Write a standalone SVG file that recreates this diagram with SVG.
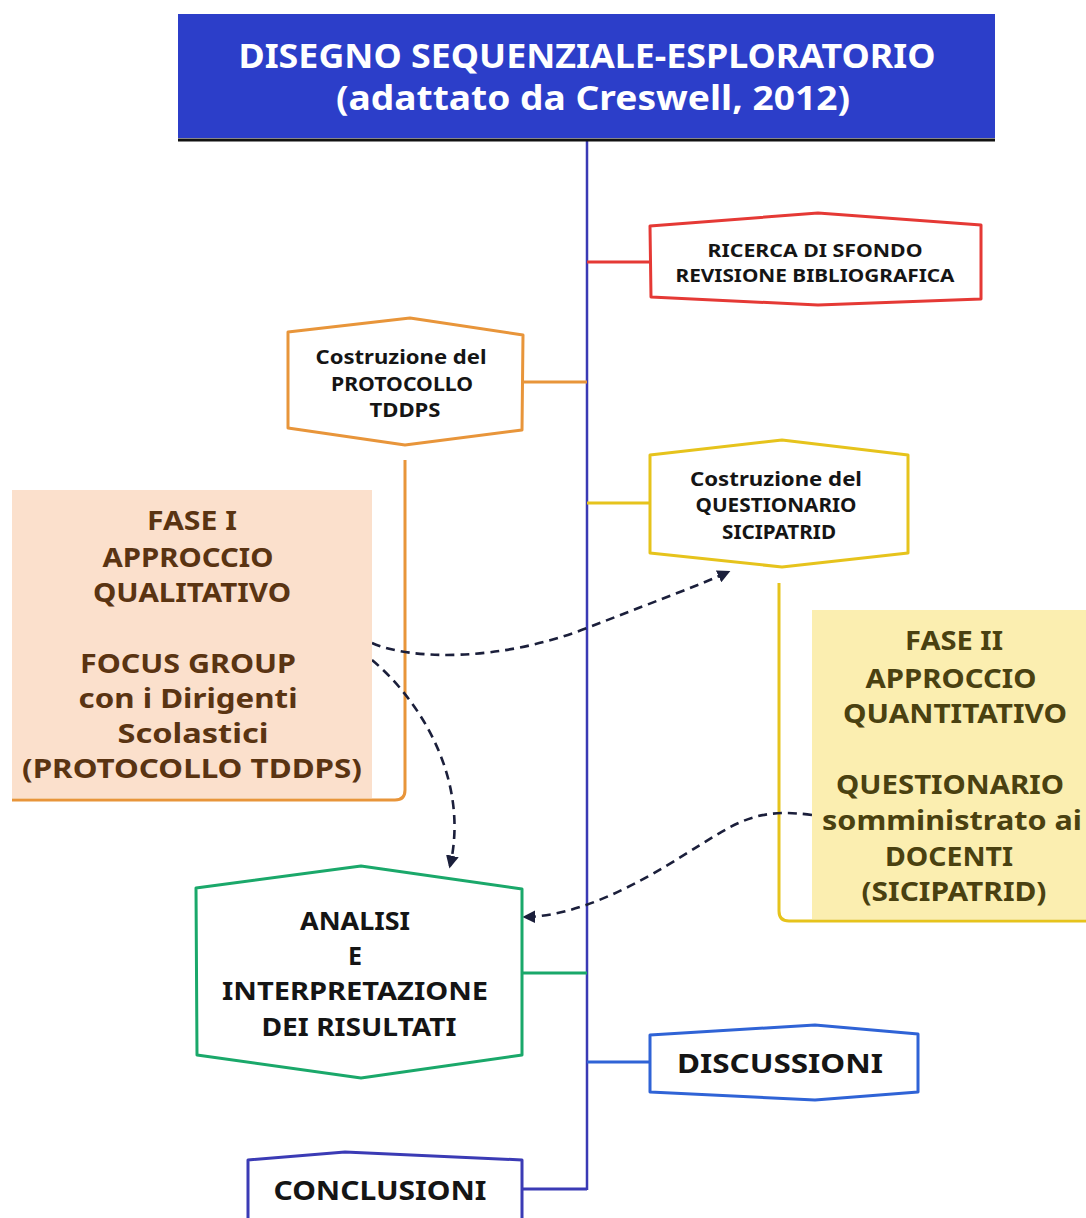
<svg xmlns="http://www.w3.org/2000/svg" width="1086" height="1218" viewBox="0 0 1086 1218">
<defs>
<marker id="ah" viewBox="0 0 10 10" refX="8" refY="5" markerWidth="5" markerHeight="5" orient="auto" markerUnits="strokeWidth">
<path d="M0,0 L10,5 L0,10 Z" fill="#1b1f3b"/>
</marker>
<style>
text{font-family:"Noto Sans","DejaVu Sans",sans-serif;font-weight:700;text-anchor:middle}
.t{fill:#ffffff;font-size:34px}
.k{fill:#151515}
.s{font-size:18px}
.m{font-size:19px}
.b1{fill:#5a3412;font-size:26px}
.b2{fill:#4a4110;font-size:26px}
.g{font-size:25px}
.d{font-size:27px}
.hx{fill:#ffffff;stroke-width:3;stroke-linejoin:round}
.ln{fill:none;stroke-width:3}
.dash{fill:none;stroke:#1b1f3b;stroke-width:2.6;stroke-dasharray:9 6;marker-end:url(#ah)}
</style>
</defs>
<rect width="1086" height="1218" fill="#ffffff"/>

<g id="connectors">
<line x1="587" y1="140" x2="587" y2="1190" stroke="#3a3ab5" stroke-width="2.5"/>
<line x1="587" y1="262" x2="650" y2="262" class="ln" stroke="#e53935"/>
<line x1="523" y1="382" x2="587" y2="382" class="ln" stroke="#e8953a"/>
<line x1="587" y1="503" x2="650" y2="503" class="ln" stroke="#e6c31c"/>
<line x1="522" y1="973" x2="587" y2="973" class="ln" stroke="#1aa86a"/>
<line x1="587" y1="1062" x2="650" y2="1062" class="ln" stroke="#2f63d6"/>
<line x1="522" y1="1189" x2="587" y2="1189" class="ln" stroke="#3b3bb5"/>
<path d="M405,460 L405,790 Q405,800 395,800 L12,800" class="ln" stroke="#e8953a"/>
<path d="M779,583 L779,911 Q779,921 789,921 L1086,921" class="ln" stroke="#e6c31c"/>
<path d="M372,643 C410,660 500,662 587,628 S700,585 728,572" class="dash"/>
<path d="M372,660 C420,700 470,780 450,866" class="dash"/>
<path d="M812,815 C760,808 740,820 700,845 S590,916 525,917" class="dash"/>
</g>

<g id="title">
<rect x="178" y="14" width="817" height="124" fill="#2c3ec9"/>
<line x1="178" y1="140" x2="995" y2="140" stroke="#111111" stroke-width="3"/>
<text class="t" x="587" y="68" textLength="697" lengthAdjust="spacingAndGlyphs">DISEGNO SEQUENZIALE-ESPLORATORIO</text>
<text class="t" x="593" y="110" textLength="514" lengthAdjust="spacingAndGlyphs">(adattato da Creswell, 2012)</text>
</g>

<g id="ricerca">
<polygon class="hx" stroke="#e53935" points="650,226 818,213 981,225 981,299 818,305 651,297"/>
<text class="k s" x="815" y="257" textLength="215" lengthAdjust="spacingAndGlyphs">RICERCA DI SFONDO</text>
<text class="k s" x="815" y="282" textLength="279" lengthAdjust="spacingAndGlyphs">REVISIONE BIBLIOGRAFICA</text>
</g>

<g id="protocollo">
<polygon class="hx" stroke="#e8953a" points="288,332 410,318 523,335 522,430 405,445 288,428"/>
<text class="k m" x="401" y="364" textLength="171" lengthAdjust="spacingAndGlyphs">Costruzione del</text>
<text class="k m" x="402" y="391" textLength="142" lengthAdjust="spacingAndGlyphs">PROTOCOLLO</text>
<text class="k m" x="405" y="417" textLength="71" lengthAdjust="spacingAndGlyphs">TDDPS</text>
</g>

<g id="questionario">
<polygon class="hx" stroke="#e6c31c" points="650,455 782,440 908,455 908,553 782,567 650,553"/>
<text class="k m" x="776" y="486" textLength="172" lengthAdjust="spacingAndGlyphs">Costruzione del</text>
<text class="k m" x="776" y="512" textLength="161" lengthAdjust="spacingAndGlyphs">QUESTIONARIO</text>
<text class="k m" x="779" y="539" textLength="114" lengthAdjust="spacingAndGlyphs">SICIPATRID</text>
</g>

<g id="fase1">
<rect x="12" y="490" width="360" height="308" fill="#fbe0cc"/>
<text class="b1" x="192" y="530" textLength="90" lengthAdjust="spacingAndGlyphs">FASE I</text>
<text class="b1" x="188" y="567" textLength="171" lengthAdjust="spacingAndGlyphs">APPROCCIO</text>
<text class="b1" x="192" y="602" textLength="198" lengthAdjust="spacingAndGlyphs">QUALITATIVO</text>
<text class="b1" x="188" y="673" textLength="216" lengthAdjust="spacingAndGlyphs">FOCUS GROUP</text>
<text class="b1" x="188" y="708" textLength="219" lengthAdjust="spacingAndGlyphs">con i  Dirigenti</text>
<text class="b1" x="193" y="743" textLength="151" lengthAdjust="spacingAndGlyphs">Scolastici</text>
<text class="b1" x="192" y="778" textLength="340" lengthAdjust="spacingAndGlyphs">(PROTOCOLLO TDDPS)</text>
</g>

<g id="fase2">
<rect x="812" y="610" width="274" height="309" fill="#fbeeb0"/>
<text class="b2" x="954" y="650" textLength="98" lengthAdjust="spacingAndGlyphs">FASE II</text>
<text class="b2" x="951" y="688" textLength="171" lengthAdjust="spacingAndGlyphs">APPROCCIO</text>
<text class="b2" x="955" y="723" textLength="224" lengthAdjust="spacingAndGlyphs">QUANTITATIVO</text>
<text class="b2" x="950" y="794" textLength="228" lengthAdjust="spacingAndGlyphs">QUESTIONARIO</text>
<text class="b2" x="952" y="830" textLength="260" lengthAdjust="spacingAndGlyphs">somministrato ai</text>
<text class="b2" x="949" y="866" textLength="128" lengthAdjust="spacingAndGlyphs">DOCENTI</text>
<text class="b2" x="954" y="901" textLength="185" lengthAdjust="spacingAndGlyphs">(SICIPATRID)</text>
</g>

<g id="analisi">
<polygon class="hx" stroke="#1aa86a" points="196,888 361,866 522,889 522,1055 361,1078 197,1055"/>
<text class="k g" x="355" y="930" textLength="110" lengthAdjust="spacingAndGlyphs">ANALISI</text>
<text class="k g" x="355" y="965">E</text>
<text class="k g" x="355" y="1000" textLength="266" lengthAdjust="spacingAndGlyphs">INTERPRETAZIONE</text>
<text class="k g" x="359" y="1036" textLength="195" lengthAdjust="spacingAndGlyphs">DEI RISULTATI</text>
</g>

<g id="discussioni">
<polygon class="hx" stroke="#2f63d6" points="650,1035 815,1025 918,1034 918,1092 815,1100 650,1092"/>
<text class="k d" x="780" y="1073" textLength="206" lengthAdjust="spacingAndGlyphs">DISCUSSIONI</text>
</g>

<g id="conclusioni">
<polygon class="hx" stroke="#3b3bb5" points="248,1160 345,1152 522,1160 522,1232 248,1232"/>
<text class="k d" x="380" y="1200" textLength="213" lengthAdjust="spacingAndGlyphs">CONCLUSIONI</text>
</g>
</svg>
